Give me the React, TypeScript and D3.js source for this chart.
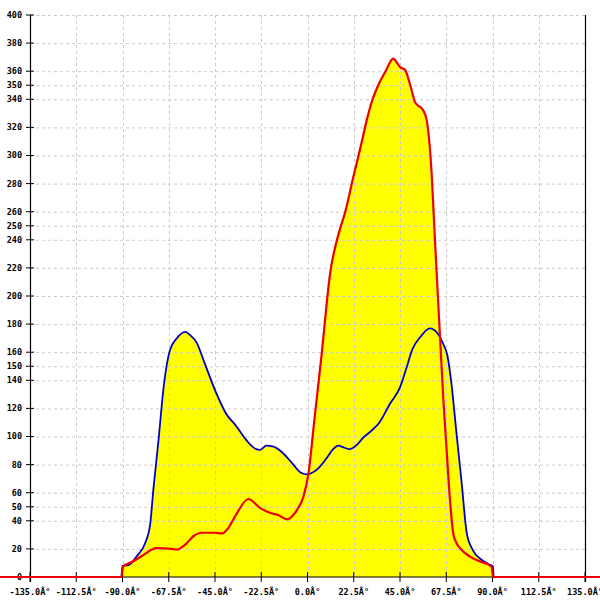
import React from "react";
import * as d3 from "d3";

const xTicks = [-135, -112.5, -90, -67.5, -45, -22.5, 0, 22.5, 45, 67.5, 90, 112.5, 135];
const yTicks = [0, 20, 40, 50, 60, 80, 100, 120, 140, 150, 160, 180, 200, 220, 240, 250, 260, 280, 300, 320, 340, 350, 360, 380, 400];

const blueAngles = [-90.5, -90, -87, -83, -79, -76.5, -75, -72.5, -70, -67, -63.5, -59.5, -57, -54, -50, -45, -39.5, -35, -29.5, -25, -23, -20, -17, -12.5, -7.5, -3, 0, 2, 5, 9, 12.5, 15, 18, 20.5, 24, 27, 31, 35, 40, 45, 48, 51, 55, 59.5, 63.5, 66, 68, 70, 72.5, 75, 77.5, 80.5, 84, 89, 90.2, 90.5];
const blueValues = [0, 8, 8.5, 15, 24, 38, 62, 97, 135, 161, 170, 174.5, 172, 167, 152, 133, 116, 108, 97, 91, 90.5, 93.5, 93, 89, 81, 74, 73, 74, 77, 84, 91, 93.5, 92, 91, 94, 99, 104, 110, 123, 135, 148, 162, 171, 177, 173, 166, 158, 138, 102, 67, 31, 19, 13, 8.5, 7.5, 0];

const redAngles = [-180, -90.5, -89.7, -85, -80, -73.5, -66, -63.5, -59.5, -55.5, -51.5, -45, -41.5, -38.5, -34.5, -28.8, -23, -18, -14, -10, -7, -5, -2, 0.5, 3.5, 7, 9.5, 11, 14, 16.5, 18.2, 22, 25.5, 28.8, 31, 34.4, 38, 41.7, 43.5, 45, 47.4, 50, 52.3, 56.3, 58, 60.4, 62, 64.5, 66.1, 67.7, 69.3, 70.9, 72.5, 74.2, 79, 84, 89.5, 90.3, 180];
const redValues = [0, 0, 7.5, 11, 15.5, 20.5, 20, 19.5, 23, 29, 31.5, 31.5, 31, 35, 45, 55.5, 49, 45.5, 44, 41, 44, 48, 57, 74, 114, 160, 197, 216, 238, 251, 259, 283, 304, 325, 337, 350, 360, 369, 366, 363, 361, 350, 338, 332, 325, 287, 240, 170, 126, 90, 55, 31, 24, 20.5, 14.5, 11, 7.5, 0, 0];

const W = 600, H = 600;
const left = 30, right = 585, top = 15, bottom = 577;

export default function App() {
  const x = d3.scaleLinear().domain([-135, 135]).range([left, right]);
  const y = d3.scaleLinear().domain([0, 400]).range([bottom, top]);

  const blue = blueAngles.map((a, i) => [a, blueValues[i]] as [number, number]);
  const red = redAngles.map((a, i) => [a, redValues[i]] as [number, number]);

  const curve = d3.curveMonotoneX;
  const area = d3.area<[number, number]>().x(d => x(d[0])).y0(y(0)).y1(d => y(d[1])).curve(curve);
  const line = d3.line<[number, number]>().x(d => x(d[0])).y(d => y(d[1])).curve(curve);

  const font = { fontFamily: "DejaVu Sans Mono", fontSize: 8.5, fontWeight: "bold" as const };

  return (
    <svg width={W} height={H} style={{ position: "absolute", left: 0, top: 0, background: "#fff" }}>
      <path d={area(blue) || ""} fill="#ffff00" />
      <path d={area(red) || ""} fill="#ffff00" />
      {yTicks.filter(v => v > 0).map(v => (
        <line key={"gy" + v} x1={left} x2={right} y1={y(v) + 0.5} y2={y(v) + 0.5} stroke="#cccccc" strokeDasharray="3,3" strokeWidth={1} />
      ))}
      {xTicks.filter(v => v > -135 && v < 135).map(v => (
        <line key={"gx" + v} x1={Math.round(x(v)) + 0.5} x2={Math.round(x(v)) + 0.5} y1={top} y2={bottom} stroke="#cccccc" strokeDasharray="3,3" strokeWidth={1} />
      ))}
      <line x1={left + 0.5} x2={left + 0.5} y1={top} y2={bottom + 5} stroke="#000" strokeWidth={1.2} />
      <line x1={right + 0.5} x2={right + 0.5} y1={top} y2={bottom + 5} stroke="#000" strokeWidth={1.2} />
      <line x1={left} x2={right} y1={bottom} y2={bottom} stroke="#000" strokeWidth={1} />
      {yTicks.map(v => (
        <g key={"ty" + v}>
          <line x1={left - 4} x2={left + 4} y1={y(v)} y2={y(v)} stroke="#000" strokeWidth={1} />
          <text x={left - 8} y={y(v)} dy="0.35em" textAnchor="end" {...font} fill="#000">{v}</text>
        </g>
      ))}
      {xTicks.map(v => (
        <g key={"tx" + v}>
          <line x1={x(v)} x2={x(v)} y1={bottom - 5} y2={bottom + 5} stroke="#000" strokeWidth={1} />
          <text x={x(v)} y={bottom + 15} dy="0.35em" textAnchor="middle" {...font} fill="#000">{v.toFixed(1) + "Â°"}</text>
        </g>
      ))}
      <path d={line(blue) || ""} fill="none" stroke="#0000cc" strokeWidth={1.8} />
      <path d={line(red) || ""} fill="none" stroke="#ee0000" strokeWidth={2.2} />
    </svg>
  );
}
